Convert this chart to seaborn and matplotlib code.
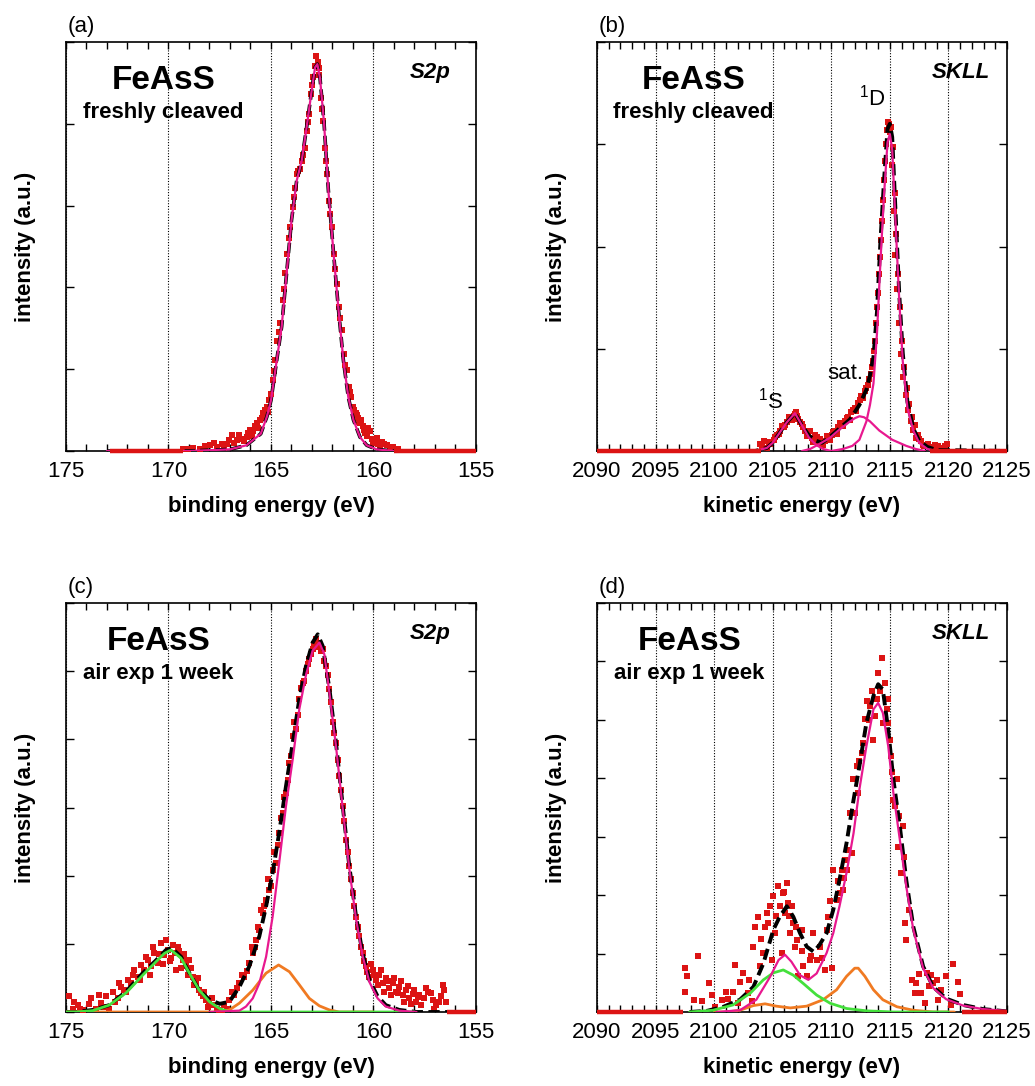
import matplotlib
matplotlib.use("Agg")
import matplotlib.pyplot as plt
import seaborn as sns
from matplotlib.ticker import MultipleLocator, NullFormatter

sns.set_theme(style="white")
plt.rcParams["font.family"] = ["Liberation Sans", "DejaVu Sans"]
plt.rcParams["mathtext.default"] = "regular"
plt.rcParams["text.color"] = "black"
plt.rcParams["axes.labelcolor"] = "black"
plt.rcParams["xtick.color"] = "black"
plt.rcParams["ytick.color"] = "black"

RED = "#dc1414"
MAGENTA = "#e8188f"
ORANGE = "#f07a22"
GREEN = "#44e03c"
BLACK = "#000000"

# ---------------- (a) S2p, freshly cleaved ----------------
a_data_ev = [169.28, 168.79, 168.46, 167.98, 167.65, 167.41, 167.16, 166.92, 166.67, 166.43,
             166.19, 166.02, 165.86, 165.70, 165.54, 165.37, 165.21, 165.08, 164.92, 164.80,
             164.69, 164.56, 164.43, 164.32, 164.20, 164.07, 163.94, 163.83, 163.72, 163.59,
             163.47, 163.36, 163.26, 163.15, 163.04, 162.93, 162.85, 162.80, 162.72, 162.64,
             162.54, 162.45, 162.35, 162.25, 162.15, 162.04, 161.93, 161.80, 161.68, 161.55,
             161.44, 161.31, 161.20, 161.08, 160.98, 160.87, 160.76, 160.66, 160.53, 160.40,
             160.25, 160.09, 159.93, 159.76, 159.60, 159.36, 159.03, 158.79,
             169.05, 168.20, 167.80, 167.30, 167.05, 166.80, 166.55, 166.30, 166.10, 165.95,
             165.78, 165.62, 165.45, 165.30, 165.15, 165.00, 164.86, 164.62, 164.38, 164.14,
             163.88, 163.66, 163.42, 163.20, 162.98, 162.68, 162.50, 162.30, 162.10, 161.86,
             161.62, 161.38, 161.14, 160.93, 160.81, 160.71, 160.60, 160.47, 160.33, 160.18,
             160.02, 159.85, 159.68, 159.48, 159.20]
a_data_int = [0.02, 0.04, 0.03, 0.07, 0.05, 0.09, 0.09, 0.20, 0.13, 0.15,
              0.17, 0.26, 0.24, 0.34, 0.38, 0.46, 0.54, 0.62, 0.87, 1.11,
              1.35, 1.56, 1.84, 2.17, 2.41, 2.74, 2.98, 3.22, 3.39, 3.45,
              3.55, 3.71, 3.91, 4.12, 4.36, 4.57, 4.71, 4.83, 4.75, 4.60,
              4.32, 4.04, 3.71, 3.39, 3.06, 2.74, 2.41, 2.04, 1.76, 1.48,
              1.19, 0.99, 0.78, 0.66, 0.54, 0.46, 0.40, 0.34, 0.30, 0.22,
              0.28, 0.15, 0.13, 0.09, 0.11, 0.07, 0.05, 0.03,
              0.03, 0.06, 0.10, 0.04, 0.14, 0.10, 0.19, 0.12, 0.22, 0.18,
              0.30, 0.28, 0.40, 0.50, 0.48, 0.70, 0.98, 1.45, 1.98, 2.60,
              3.10, 3.42, 3.62, 4.02, 4.48, 4.68, 4.18, 3.55, 2.90, 2.22,
              1.62, 1.05, 0.72, 0.50, 0.44, 0.36, 0.38, 0.26, 0.18, 0.24,
              0.10, 0.16, 0.06, 0.08, 0.04]
a_flat = [(172.85, 169.3), (159.0, 155.0)]
a_total_ev = [173.0, 169.0, 167.0, 166.2, 165.5, 165.2, 165.0, 164.72, 164.48, 164.24,
              164.0, 163.75, 163.5, 163.26, 163.02, 162.85, 162.74, 162.61, 162.41, 162.2,
              161.96, 161.72, 161.47, 161.23, 160.98, 160.66, 160.33, 159.85, 159.0, 155.0]
a_total_int = [0, 0, 0.02, 0.07, 0.21, 0.42, 0.62, 1.11, 1.52, 2.17,
               2.82, 3.30, 3.55, 3.96, 4.40, 4.69, 4.73, 4.56, 4.00, 3.18,
               2.45, 1.76, 1.11, 0.66, 0.38, 0.17, 0.07, 0.02, 0, 0]

# ---------------- (b) SKLL, freshly cleaved ----------------
b_data_ev = [2103.95, 2104.24, 2104.52, 2104.80, 2105.08, 2105.37, 2105.65, 2105.93, 2106.21, 2106.50,
             2106.78, 2106.98, 2107.20, 2107.49, 2107.77, 2108.05, 2108.33, 2108.62, 2108.90, 2109.18,
             2109.46, 2109.75, 2110.03, 2110.31, 2110.59, 2110.88, 2111.16, 2111.44, 2111.72, 2112.00,
             2112.29, 2112.57, 2112.85, 2113.14, 2113.36, 2113.56, 2113.73, 2113.90, 2114.07, 2114.24,
             2114.41, 2114.58, 2114.75, 2114.92, 2115.09, 2115.25, 2115.40, 2115.54, 2115.71, 2115.88,
             2116.05, 2116.24, 2116.44, 2116.67, 2116.89, 2117.12, 2117.37, 2117.66, 2117.94, 2118.22,
             2118.64, 2119.07, 2119.49, 2119.86,
             2104.10, 2104.65, 2105.22, 2105.50, 2105.80, 2106.07, 2106.35, 2106.64, 2106.88, 2107.10,
             2107.35, 2107.62, 2107.90, 2108.18, 2108.47, 2108.76, 2109.04, 2109.32, 2109.60, 2109.90,
             2110.17, 2110.45, 2110.73, 2111.02, 2111.30, 2111.58, 2111.86, 2112.15, 2112.43, 2112.71,
             2113.00, 2113.25, 2113.46, 2113.65, 2113.82, 2114.00, 2114.16, 2114.33, 2114.50, 2114.66,
             2114.84, 2115.00, 2115.18, 2115.33, 2115.47, 2115.63, 2115.80, 2115.96, 2116.14, 2116.34,
             2116.55, 2116.78, 2117.00, 2117.25, 2117.50, 2117.80, 2118.40, 2118.85, 2119.30, 2119.70]
b_data_int = [0.07, 0.10, 0.03, 0.07, 0.11, 0.16, 0.20, 0.23, 0.28, 0.31,
              0.34, 0.38, 0.31, 0.26, 0.20, 0.18, 0.13, 0.16, 0.10, 0.07,
              0.10, 0.13, 0.16, 0.20, 0.23, 0.26, 0.29, 0.33, 0.38, 0.42,
              0.47, 0.54, 0.59, 0.65, 0.75, 0.88, 1.08, 1.41, 1.73, 2.06,
              2.45, 2.84, 3.14, 3.20, 3.17, 2.97, 2.52, 2.12, 1.73, 1.41,
              1.08, 0.82, 0.62, 0.46, 0.33, 0.25, 0.16, 0.10, 0.05, 0.07,
              0.03, 0.05, 0.02, 0.07,
              0.04, 0.09, 0.14, 0.17, 0.24, 0.25, 0.33, 0.30, 0.36, 0.34,
              0.28, 0.23, 0.15, 0.20, 0.09, 0.14, 0.12, 0.06, 0.15, 0.11,
              0.19, 0.17, 0.27, 0.24, 0.32, 0.30, 0.40, 0.39, 0.50, 0.52,
              0.62, 0.70, 0.82, 0.98, 1.25, 1.55, 1.90, 2.25, 2.65, 3.00,
              3.22, 3.12, 2.80, 2.35, 1.92, 1.58, 1.25, 0.95, 0.72, 0.55,
              0.40, 0.29, 0.21, 0.13, 0.12, 0.06, 0.04, 0.06, 0.03, 0.05]
b_flat = [(2090.0, 2104.0), (2118.4, 2125.0)]
b_total_ev = [2090.0, 2103.5, 2104.5, 2105.0, 2105.6, 2106.2, 2106.9, 2107.5, 2108.1, 2108.7,
              2109.2, 2109.9, 2110.7, 2111.6, 2112.4, 2113.0, 2113.3, 2113.6, 2113.9, 2114.2,
              2114.5, 2114.8, 2115.0, 2115.2, 2115.5, 2115.8, 2116.1, 2116.5, 2117.0, 2117.5,
              2118.2, 2119.0, 2125.0]
b_total_int = [0, 0, 0.03, 0.08, 0.18, 0.28, 0.37, 0.25, 0.15, 0.10,
               0.08, 0.14, 0.22, 0.31, 0.45, 0.60, 0.74, 0.92, 1.36, 2.06,
               2.64, 3.15, 3.20, 3.07, 2.30, 1.54, 0.96, 0.48, 0.22, 0.10,
               0.04, 0.01, 0]
b_1S_ev = [2103.5, 2104.5, 2105.0, 2105.6, 2106.2, 2106.9, 2107.5, 2108.1, 2108.7, 2109.3, 2110.0]
b_1S_int = [0, 0.03, 0.08, 0.18, 0.28, 0.37, 0.25, 0.13, 0.06, 0.02, 0]
b_sat_ev = [2107.5, 2108.2, 2109.0, 2109.9, 2110.7, 2111.6, 2112.0, 2112.4, 2112.8, 2113.3,
            2114.1, 2115.2, 2116.4, 2117.2, 2118.0]
b_sat_int = [0, 0.02, 0.07, 0.13, 0.21, 0.29, 0.32, 0.34, 0.33, 0.29,
             0.20, 0.11, 0.05, 0.02, 0]
b_1D_ev = [2110.0, 2111.0, 2111.8, 2112.4, 2113.0, 2113.3, 2113.6, 2113.9, 2114.2, 2114.5,
           2114.8, 2115.0, 2115.2, 2115.5, 2115.8, 2116.1, 2116.5, 2117.0, 2117.5, 2118.2, 2119.0]
b_1D_int = [0, 0.02, 0.05, 0.11, 0.29, 0.45, 0.66, 1.15, 1.86, 2.50,
            3.02, 3.10, 2.95, 2.20, 1.48, 0.88, 0.42, 0.20, 0.08, 0.02, 0]

# ---------------- (c) S2p, air exposed 1 week ----------------
c_data_ev = [174.84, 174.67, 174.43, 174.19, 173.78, 173.54, 173.29, 173.05, 172.89, 172.72,
             172.48, 172.32, 172.15, 171.99, 171.83, 171.67, 171.50, 171.34, 171.18, 171.02,
             170.85, 170.69, 170.53, 170.37, 170.20, 170.04, 169.88, 169.76, 169.63, 169.47,
             169.31, 169.15, 168.98, 168.82, 168.66, 168.50, 168.33, 168.17, 168.00, 167.76,
             167.52, 167.28, 167.03, 166.79, 166.54, 166.30, 166.06, 165.89, 165.73, 165.57,
             165.41, 165.24, 165.08, 164.92, 164.76, 164.60, 164.43, 164.27, 164.11, 163.94,
             163.78, 163.62, 163.46, 163.29, 163.13, 162.97, 162.80, 162.64, 162.48, 162.32,
             162.15, 161.99, 161.83, 161.67, 161.50, 161.34, 161.18, 161.02, 160.85, 160.69,
             160.53, 160.37, 160.20, 160.04, 159.88, 159.72, 159.55, 159.39, 159.23, 159.07,
             158.90, 158.74, 158.58, 158.41, 158.25, 158.09, 157.93, 157.76, 157.52, 157.36,
             157.11, 156.95, 156.71, 156.54, 156.46,
             174.60, 174.30, 173.90, 173.40, 173.15, 172.60, 172.40, 172.05, 171.75, 171.40,
             171.10, 170.90, 170.75, 170.45, 170.28, 170.10, 169.95, 169.70, 169.55, 169.40,
             169.22, 169.05, 168.90, 168.75, 168.58, 168.40, 168.25, 168.08, 167.90, 167.65,
             167.40, 167.15, 166.90, 166.65, 166.40, 166.15, 165.95, 165.80, 165.65, 165.50,
             165.33, 165.16, 165.00, 164.84, 164.68, 164.52, 164.35, 164.19, 164.02, 163.86,
             163.70, 163.54, 163.38, 163.21, 163.05, 162.89, 162.72, 162.56, 162.40, 162.24,
             162.07, 161.91, 161.75, 161.58, 161.42, 161.26, 161.10, 160.94, 160.77, 160.61,
             160.45, 160.30, 160.12, 159.96, 159.80, 159.64, 159.47, 159.31, 159.15, 158.98,
             158.82, 158.66, 158.50, 158.33, 158.17, 158.00, 157.85, 157.68, 157.44, 157.20,
             157.03, 156.80, 156.62]
c_data_int = [0.23, 0.05, 0.10, 0.03, 0.20, 0.05, 0.13, 0.23, 0.05, 0.30,
              0.20, 0.37, 0.32, 0.47, 0.42, 0.62, 0.52, 0.69, 0.62, 0.76,
              0.67, 0.86, 0.72, 1.01, 0.84, 0.91, 0.79, 0.99, 0.62, 0.89,
              0.76, 0.67, 0.76, 0.52, 0.42, 0.32, 0.23, 0.18, 0.13, 0.10,
              0.03, 0.10, 0.18, 0.25, 0.42, 0.52, 0.72, 0.86, 1.06, 1.21,
              1.45, 1.65, 1.79, 2.09, 2.19, 2.63, 2.92, 3.22, 3.66, 4.05,
              4.15, 4.59, 4.83, 5.00, 5.18, 5.32, 5.47, 5.42, 5.32, 5.08,
              4.74, 4.25, 3.95, 3.46, 3.02, 2.53, 2.14, 1.75, 1.40, 1.11,
              0.86, 0.67, 0.52, 0.62, 0.47, 0.54, 0.42, 0.50, 0.35, 0.42,
              0.30, 0.37, 0.25, 0.32, 0.20, 0.27, 0.15, 0.25, 0.20, 0.30,
              0.18, 0.10, 0.23, 0.32, 0.15,
              0.15, 0.05, 0.12, 0.25, 0.08, 0.15, 0.42, 0.30, 0.55, 0.47,
              0.80, 0.55, 0.95, 0.85, 0.70, 1.05, 0.75, 0.86, 0.95, 0.65,
              0.85, 0.55, 0.65, 0.40, 0.50, 0.28, 0.30, 0.08, 0.20, 0.05,
              0.00, 0.05, 0.30, 0.35, 0.55, 0.60, 0.95, 0.95, 1.25, 1.50,
              1.55, 1.95, 1.85, 2.35, 2.45, 2.85, 3.15, 3.40, 3.75, 4.25,
              4.35, 4.75, 4.85, 5.10, 5.25, 5.40, 5.35, 5.30, 5.15, 4.95,
              4.55, 4.10, 3.70, 3.25, 2.80, 2.35, 1.95, 1.55, 1.25, 0.95,
              0.75, 0.58, 0.70, 0.55, 0.40, 0.62, 0.30, 0.45, 0.25, 0.50,
              0.28, 0.45, 0.15, 0.38, 0.12, 0.33, 0.22, 0.10, 0.35, 0.28,
              0.05, 0.15, 0.40]
c_flat = [(156.4, 155.0)]
c_total_ev = [175.0, 174.5, 173.7, 172.9, 172.07, 171.26, 170.6, 170.12, 169.85, 169.39,
              168.98, 168.5, 168.0, 167.5, 167.03, 166.54, 166.06, 165.57, 165.24, 164.92,
              164.6, 164.27, 163.94, 163.62, 163.29, 162.97, 162.72, 162.48, 162.15, 161.83,
              161.5, 161.18, 160.85, 160.53, 160.2, 159.8, 159.4, 158.74, 157.9, 155.0]
c_total_int = [0, 0, 0.03, 0.10, 0.30, 0.57, 0.76, 0.91, 0.94, 0.81,
               0.57, 0.32, 0.18, 0.12, 0.15, 0.37, 0.67, 1.11, 1.55, 2.04,
               2.63, 3.31, 3.95, 4.59, 5.08, 5.42, 5.54, 5.37, 4.74, 3.95,
               3.02, 2.14, 1.40, 0.86, 0.47, 0.23, 0.10, 0.03, 0, 0]
c_sulfide_ev = [168.0, 166.54, 166.22, 165.89, 165.57, 165.24, 164.92, 164.6, 164.27, 163.94,
                163.62, 163.29, 162.97, 162.64, 162.4, 162.15, 161.83, 161.5, 161.18, 160.85,
                160.53, 160.2, 159.8, 159.4, 158.74, 157.9]
c_sulfide_int = [0, 0.02, 0.08, 0.20, 0.42, 0.81, 1.40, 2.19, 3.02, 3.71,
                 4.44, 4.95, 5.30, 5.42, 5.25, 4.68, 3.90, 2.98, 2.10, 1.36,
                 0.82, 0.44, 0.20, 0.08, 0.02, 0]
c_poly_ev = [175.0, 168.5, 167.5, 167.03, 166.54, 165.89, 165.24, 164.63, 164.1, 163.62,
             163.13, 162.64, 162.15, 161.67, 160.0]
c_poly_int = [0, 0, 0, 0.03, 0.13, 0.32, 0.57, 0.69, 0.59, 0.40,
              0.20, 0.09, 0.03, 0, 0]
c_sulfate_ev = [175.0, 174.5, 173.7, 172.9, 172.07, 171.26, 170.6, 170.2, 169.88, 169.39,
                168.98, 168.5, 168.0, 167.5, 167.03, 166.0, 158.0]
c_sulfate_int = [0, 0, 0.02, 0.10, 0.28, 0.54, 0.74, 0.86, 0.91, 0.79,
                 0.57, 0.32, 0.15, 0.05, 0, 0, 0]

# ---------------- (d) SKLL, air exposed 1 week ----------------
d_data_ev = [2097.53, 2097.67, 2097.53, 2098.66, 2098.24, 2098.95, 2099.52, 2099.80, 2100.09, 2100.65,
             2101.22, 2101.79, 2101.65, 2102.22, 2102.50, 2102.93, 2103.21, 2103.35, 2103.49, 2103.78,
             2103.92, 2104.20, 2104.49, 2104.63, 2104.77, 2104.91, 2105.06, 2105.20, 2105.48, 2105.63,
             2105.77, 2105.91, 2106.05, 2106.19, 2106.34, 2106.48, 2106.62, 2106.76, 2106.90, 2107.05,
             2107.19, 2107.47, 2107.61, 2107.90, 2108.18, 2108.47, 2108.75, 2109.03, 2109.46, 2109.60,
             2109.74, 2110.03, 2110.17, 2110.45, 2110.74, 2110.88, 2111.02, 2111.16, 2111.31, 2111.45,
             2111.59, 2111.73, 2111.88, 2112.02, 2112.16, 2112.30, 2112.59, 2112.87, 2113.01, 2113.30,
             2113.58, 2113.72, 2113.86, 2114.15, 2114.29, 2114.43, 2114.57, 2114.72, 2114.86, 2115.00,
             2115.14, 2115.28, 2115.43, 2115.57, 2115.71, 2115.99, 2116.14, 2116.28, 2116.42, 2116.85,
             2117.13, 2117.27, 2117.70, 2117.98, 2118.13, 2118.55, 2118.69, 2119.12, 2119.40, 2119.83,
             2120.26, 2120.40, 2120.82,
             2101.00, 2102.00, 2103.00, 2104.00, 2104.30, 2105.30, 2106.00, 2106.40, 2107.00, 2107.50,
             2108.30, 2109.20, 2109.90, 2110.60, 2111.10, 2112.40, 2112.70, 2113.20, 2113.50, 2114.00,
             2114.80, 2115.20, 2115.80, 2116.20, 2116.60, 2117.50, 2118.30, 2119.00, 2121.00]
d_data_int = [0.75, 0.61, 0.35, 0.95, 0.21, 0.18, 0.49, 0.29, 0.09, 0.21,
              0.23, 0.81, 0.35, 0.52, 0.66, 0.32, 0.18, 1.12, 1.46, 1.63,
              0.78, 1.01, 1.69, 1.52, 1.81, 0.89, 1.98, 1.35, 2.15, 1.81,
              1.01, 2.03, 1.69, 2.21, 1.86, 1.35, 1.81, 1.52, 1.12, 1.23,
              0.61, 1.41, 0.78, 0.61, 0.89, 1.35, 0.89, 1.12, 0.72, 1.41,
              1.63, 0.75, 2.43, 1.92, 2.03, 2.43, 2.09, 2.61, 2.43, 2.78,
              3.41, 2.72, 3.98, 3.41, 4.21, 3.75, 4.43, 5.01, 5.32, 5.23,
              4.66, 5.06, 5.35, 5.49, 6.06, 4.95, 5.63, 5.18, 4.95, 4.66,
              4.38, 3.63, 3.52, 3.98, 2.83, 2.38, 3.18, 1.52, 1.23, 0.55,
              0.32, 0.49, 0.32, 0.15, 0.66, 0.63, 0.49, 0.21, 0.38, 0.61,
              0.12, 0.83, 0.52,
              0.35, 0.15, 0.55, 1.25, 1.45, 1.65, 2.05, 1.65, 1.45, 1.05,
              0.95, 0.92, 1.90, 2.25, 2.30, 4.30, 4.60, 5.00, 5.50, 5.80,
              5.35, 4.10, 3.35, 2.65, 1.75, 0.65, 0.45, 0.55, 0.30]
d_flat = [(2090.0, 2097.3), (2121.2, 2125.0)]
d_total_ev = [2097.9, 2099.4, 2100.8, 2102.2, 2103.35, 2104.2, 2105.06, 2105.6, 2106.2, 2106.76,
              2107.33, 2107.9, 2108.5, 2109.0, 2109.6, 2110.17, 2110.7, 2111.3, 2111.9, 2112.4,
              2113.0, 2113.6, 2114.0, 2114.4, 2114.86, 2115.3, 2115.85, 2116.4, 2117.0, 2117.84,
              2118.7, 2119.8, 2121.25, 2122.95, 2125.0]
d_total_int = [0, 0.02, 0.09, 0.21, 0.43, 0.83, 1.41, 1.63, 1.81, 1.63,
               1.35, 1.12, 1.03, 1.15, 1.35, 1.75, 2.26, 2.89, 3.63, 4.21,
               4.95, 5.41, 5.61, 5.52, 4.83, 3.98, 3.18, 2.26, 1.46, 0.78,
               0.43, 0.23, 0.12, 0.05, 0.01]
d_sulfide_ev = [2100.2, 2102.2, 2103.6, 2104.8, 2105.5, 2106.05, 2106.6, 2107.33, 2108.04, 2108.75,
                2109.6, 2110.17, 2110.7, 2111.3, 2111.9, 2112.4, 2113.0, 2113.6, 2114.0, 2114.4,
                2114.86, 2115.3, 2115.85, 2116.4, 2117.0, 2117.84, 2118.7, 2119.8, 2121.25, 2122.95,
                2124.9]
d_sulfide_int = [0, 0.03, 0.21, 0.61, 0.89, 0.98, 0.86, 0.63, 0.55, 0.66,
                 1.01, 1.35, 1.81, 2.38, 3.06, 3.81, 4.55, 5.18, 5.29, 5.12,
                 4.55, 3.75, 2.95, 2.15, 1.41, 0.75, 0.41, 0.22, 0.11, 0.05,
                 0.02]
d_sulfate_ev = [2097.9, 2099.9, 2101.6, 2103.07, 2104.2, 2105.06, 2105.9, 2106.76, 2107.6, 2108.75,
                2109.9, 2111.3, 2113.0, 2115.3, 2120.0]
d_sulfate_int = [0, 0.03, 0.12, 0.32, 0.55, 0.67, 0.72, 0.63, 0.49, 0.29,
                 0.15, 0.06, 0.02, 0, 0]
d_poly_ev = [2100.0, 2101.1, 2102.2, 2103.35, 2104.35, 2105.3, 2106.5, 2107.9, 2109.3, 2110.45,
             2111.3, 2112.0, 2112.3, 2112.87, 2113.6, 2114.4, 2115.6, 2117.0, 2118.7, 2120.5]
d_poly_int = [0, 0, 0.03, 0.11, 0.14, 0.10, 0.07, 0.10, 0.21, 0.38,
              0.61, 0.75, 0.75, 0.61, 0.38, 0.21, 0.09, 0.03, 0, 0]

DASHED = (0, (2.9, 1.4))

fig = plt.figure(figsize=(10.35, 10.86), dpi=100)
W, H = 1035.0, 1086.0


def panel_axes(left_px, bottom_px):
    return fig.add_axes([left_px / W, 1 - bottom_px / H, 410 / W, 409 / H])


def draw_panel(ax, letter, data_ev, data_int, flat, curves, xlim, ymax,
               xlabel, condition, line_label, fe_x, cond_x):
    ax.set_axisbelow(True)
    sns.scatterplot(x=data_ev, y=data_int, ax=ax, marker="s", s=15,
                    color=RED, linewidth=0, zorder=3)
    for lo, hi in flat:
        ax.hlines(0, lo, hi, color=RED, lw=3.2, zorder=6, clip_on=False)
    for ev, inten, color, style, lw in curves:
        sns.lineplot(x=ev, y=inten, ax=ax, color=color, lw=lw, linestyle=style,
                     sort=False, estimator=None, zorder=4)

    ax.set_xlim(*xlim)
    ax.set_ylim(0, ymax)
    ax.xaxis.set_major_locator(MultipleLocator(5))
    ax.xaxis.set_minor_locator(MultipleLocator(1))
    ax.yaxis.set_major_locator(MultipleLocator(1))
    ax.yaxis.set_major_formatter(NullFormatter())
    ax.tick_params(axis="x", which="both", direction="in", top=True, bottom=True,
                   length=5, width=1, color="black", labelcolor="black",
                   labelsize=16, pad=7)
    ax.tick_params(axis="y", which="both", direction="in", left=True, right=True,
                   length=6, width=1, color="black")
    ax.xaxis.grid(True, which="major", linestyle=(0, (1, 1.5)), color="black", lw=0.8)
    ax.yaxis.grid(False)
    for sp in ax.spines.values():
        sp.set_color("black")
        sp.set_linewidth(1.2)

    ax.set_xlabel(xlabel, fontsize=16, fontweight="bold", labelpad=10, color="black")
    ax.set_ylabel("intensity (a.u.)", fontsize=16, fontweight="bold", labelpad=18,
                  color="black")

    ax.text(fe_x, 0.886, "FeAsS", transform=ax.transAxes, ha="center",
            va="baseline", fontsize=24, fontweight="bold", color="black")
    ax.text(cond_x, 0.813, condition, transform=ax.transAxes, ha="center",
            va="baseline", fontsize=16, fontweight="bold", color="black")
    ax.text(0.888, 0.912, line_label, transform=ax.transAxes, ha="center",
            va="baseline", fontsize=16, fontweight="bold", style="italic", color="black")
    ax.text(0.005, 1.025, letter, transform=ax.transAxes, ha="left",
            va="baseline", fontsize=16, color="black")


ax_a = panel_axes(66, 451)
draw_panel(ax_a, "(a)", a_data_ev, a_data_int, a_flat,
           [(a_total_ev, a_total_int, BLACK, DASHED, 2.6),
            (a_total_ev, a_total_int, MAGENTA, "-", 1.6)],
           (175, 155), 5, "binding energy (eV)", "freshly cleaved", "S2p", 0.237, 0.237)

ax_b = panel_axes(597, 451)
draw_panel(ax_b, "(b)", b_data_ev, b_data_int, b_flat,
           [(b_total_ev, b_total_int, BLACK, DASHED, 2.8),
            (b_1S_ev, b_1S_int, MAGENTA, "-", 1.6),
            (b_sat_ev, b_sat_int, MAGENTA, "-", 1.6),
            (b_1D_ev, b_1D_int, MAGENTA, "-", 1.6)],
           (2090, 2125), 4, "kinetic energy (eV)", "freshly cleaved", "SKLL", 0.235, 0.235)
ax_b.text(2113.5, 3.375, r"$\mathregular{^1D}$", ha="center", va="baseline",
          fontsize=16, color="black")
ax_b.text(2111.2, 0.70, "sat.", ha="center", va="baseline", fontsize=16, color="black")
ax_b.text(2104.85, 0.42, r"$\mathregular{^1S}$", ha="center", va="baseline",
          fontsize=16, color="black")

ax_c = panel_axes(66, 1012)
draw_panel(ax_c, "(c)", c_data_ev, c_data_int, c_flat,
           [(c_total_ev, c_total_int, BLACK, DASHED, 2.8),
            (c_poly_ev, c_poly_int, ORANGE, "-", 2.0),
            (c_sulfate_ev, c_sulfate_int, GREEN, "-", 2.0),
            (c_sulfide_ev, c_sulfide_int, MAGENTA, "-", 1.6)],
           (175, 155), 6, "binding energy (eV)", "air exp 1 week", "S2p", 0.226, 0.225)

ax_d = panel_axes(597, 1012)
draw_panel(ax_d, "(d)", d_data_ev, d_data_int, d_flat,
           [(d_total_ev, d_total_int, BLACK, DASHED, 2.8),
            (d_poly_ev, d_poly_int, ORANGE, "-", 2.0),
            (d_sulfate_ev, d_sulfate_int, GREEN, "-", 2.0),
            (d_sulfide_ev, d_sulfide_int, MAGENTA, "-", 1.6)],
           (2090, 2125), 7, "kinetic energy (eV)", "air exp 1 week", "SKLL", 0.226, 0.225)

fig.savefig("out.png", dpi=100, facecolor="white")
